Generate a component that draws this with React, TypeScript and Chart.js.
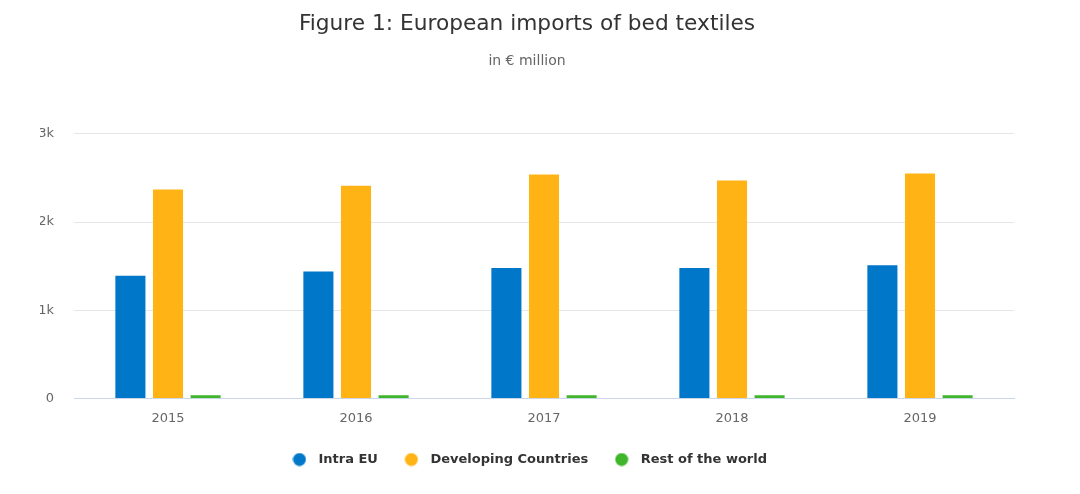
import React, { useEffect, useRef } from "react";
import { Chart, registerables } from "chart.js";

Chart.register(...registerables);

const years = ["2015", "2016", "2017", "2018", "2019"];
const intraEU = [1390, 1440, 1480, 1480, 1510];
const developingCountries = [2370, 2410, 2540, 2470, 2550];
const restOfWorld = [35, 35, 35, 35, 35];
const seriesNames = ["Intra EU", "Developing Countries", "Rest of the world"];
const seriesColors = ["#0077C8", "#FFB314", "#3FB62A"];
const yTicks = [0, 1000, 2000, 3000];

const FONT = "'DejaVu Sans', sans-serif";

function makeDot(color: string): HTMLCanvasElement {
  const c = document.createElement("canvas");
  c.width = 14;
  c.height = 14;
  const ctx = c.getContext("2d")!;
  ctx.fillStyle = color;
  ctx.beginPath();
  ctx.arc(7, 7, 6.5, 0, Math.PI * 2);
  ctx.fill();
  return c;
}

export default function App() {
  const ref = useRef<HTMLCanvasElement | null>(null);

  useEffect(() => {
    if (!ref.current) return;
    const dots = seriesColors.map(makeDot);
    const values = [intraEU, developingCountries, restOfWorld];
    const chart = new Chart(ref.current, {
      type: "bar",
      data: {
        labels: years,
        datasets: values.map((v, i) => ({
          label: seriesNames[i],
          data: v,
          backgroundColor: seriesColors[i],
          borderWidth: 0,
          categoryPercentage: 0.6,
          barPercentage: 0.8,
        })),
      },
      options: {
        responsive: false,
        animation: false,
        layout: { padding: { left: 40, right: 66, top: 0, bottom: 18 } },
        plugins: {
          title: {
            display: true,
            text: "Figure 1: European imports of bed textiles",
            color: "#333333",
            font: { family: FONT, size: 21.7, weight: "normal" },
            padding: { top: 11, bottom: 16 },
          },
          subtitle: {
            display: true,
            text: "in € million",
            color: "#666666",
            font: { family: FONT, size: 14, weight: "normal" },
            padding: { top: 0, bottom: 64 },
          },
          legend: {
            position: "bottom",
            labels: {
              usePointStyle: true,
              pointStyleWidth: 25,
              boxHeight: 13,
              padding: 21,
              color: "#333333",
              font: { family: FONT, size: 13, weight: "bold" },
              generateLabels: (ch: any) => {
                const items = Chart.defaults.plugins.legend.labels.generateLabels(ch);
                return items.map((it: any, i: number) => ({ ...it, pointStyle: dots[i] }));
              },
            },
          },
          tooltip: { enabled: false },
        },
        scales: {
          x: {
            grid: { display: false, drawTicks: false },
            border: { display: true, color: "#CCD6EB", width: 1 },
            ticks: {
              color: "#666666",
              padding: 12,
              font: { family: FONT, size: 13 },
            },
            afterFit: (s: any) => {
              s.height -= 6;
            },
          },
          y: {
            min: 0,
            max: 3000,
            afterBuildTicks: (s: any) => {
              s.ticks = yTicks.map((v) => ({ value: v }));
            },
            grid: { color: "#E6E6E6", drawTicks: false },
            border: { display: false },
            ticks: {
              color: "#666666",
              padding: 20,
              font: { family: FONT, size: 13 },
              callback: (v: any) => (Number(v) === 0 ? "0" : Number(v) / 1000 + "k"),
            },
            afterFit: (s: any) => {
              s.width = 34;
            },
          },
        },
      },
    });
    return () => chart.destroy();
  }, []);

  return (
    <div style={{ position: "fixed", left: 0, top: 0, width: 1080, height: 494, background: "#fff" }}>
      <canvas ref={ref} width={1080} height={494} style={{ display: "block" }} />
    </div>
  );
}
